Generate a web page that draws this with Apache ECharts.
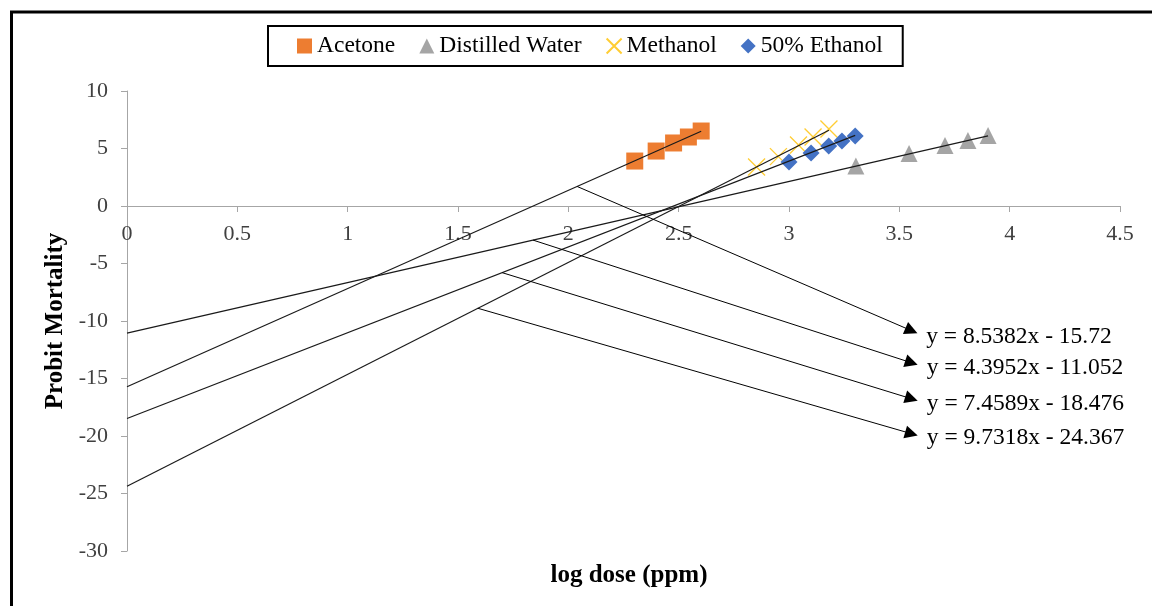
<!DOCTYPE html>
<html>
<head>
<meta charset="utf-8">
<script src="https://cdn.jsdelivr.net/npm/echarts@6/dist/echarts.min.js"></script>
<style>
  html, body { margin: 0; padding: 0; background: #fff; }
  #chart { width: 1152px; height: 606px; }
</style>
</head>
<body>
<div id="chart"></div>
<script>
  // values (x = log dose, y = probit)
  var seriesNames = ['Acetone', 'Distilled Water', 'Methanol', '50% Ethanol'];
  var acetoneX = [2.301, 2.398, 2.477, 2.544, 2.602];
  var acetoneY = [3.91, 4.78, 5.48, 6.0, 6.52];
  var waterX = [3.303, 3.544, 3.707, 3.811, 3.902];
  var waterY = [3.48, 4.57, 5.26, 5.7, 6.13];
  var methanolX = [2.853, 2.952, 3.043, 3.109, 3.181];
  var methanolY = [3.39, 4.29, 5.3, 6.0, 6.7];
  var ethanolX = [3.0, 3.1, 3.18, 3.24, 3.3];
  var ethanolY = [3.83, 4.61, 5.22, 5.65, 6.09];

  // trendline equations shown on the chart
  var slopes = [8.5382, 4.3952, 9.7318, 7.4589];
  var intercepts = [-15.72, -11.052, -24.367, -18.476];
  var eqLabels = ['y = 8.5382x - 15.72', 'y = 4.3952x - 11.052', 'y = 9.7318x - 24.367', 'y = 7.4589x - 18.476'];

  // callout arrows: start x on each trendline, arrow end point
  var arrowStartX = [2.04, 1.84, 1.59, 1.70];
  var arrowEnd = [[3.555, -10.84], [3.555, -13.63], [3.555, -19.8], [3.555, -16.76]];

  var xTicks = [0, 0.5, 1, 1.5, 2, 2.5, 3, 3.5, 4, 4.5];
  var yTicks = [-30, -25, -20, -15, -10, -5, 0, 5, 10];

  var font = 'Liberation Serif';
  var colors = ['#ED7D31', '#A5A5A5', '#FFC000', '#4472C4'];
  var symbols = ['rect', 'triangle', 'path://M0,0L10,10M10,0L0,10', 'diamond'];
  var sizes = [17, 17, 17, 17];
  var xs = [acetoneX, waterX, methanolX, ethanolX];
  var ys = [acetoneY, waterY, methanolY, ethanolY];

  function pairs(a, b) {
    return a.map(function (v, i) { return [v, b[i]]; });
  }

  var series = [];
  seriesNames.forEach(function (name, i) {
    series.push({
      name: name,
      type: 'scatter',
      data: pairs(xs[i], ys[i]),
      symbol: symbols[i],
      symbolSize: sizes[i],
      itemStyle: i === 2
        ? { color: colors[i], borderColor: colors[i], borderWidth: 1.3, opacity: 0.8 }
        : { color: colors[i], opacity: 1 },
      z: 2
    });
  });

  seriesNames.forEach(function (name, i) {
    var xEnd = Math.max.apply(null, xs[i]);
    var sx = arrowStartX[i];
    series.push({
      name: name + ' trend',
      type: 'line',
      data: [[0, intercepts[i]], [xEnd, slopes[i] * xEnd + intercepts[i]]],
      showSymbol: false,
      silent: true,
      lineStyle: { color: '#1a1a1a', width: 1.2 },
      z: 3,
      markLine: {
        silent: true,
        symbol: ['none', 'triangle'],
        symbolSize: 13,
        lineStyle: { color: '#000', width: 1, type: 'solid' },
        itemStyle: { color: '#000' },
        label: {
          show: true,
          position: 'end',
          distance: 16,
          formatter: eqLabels[i],
          color: '#000',
          fontFamily: font,
          fontSize: 23.5
        },
        emphasis: { disabled: true },
        data: [[{ coord: [sx, slopes[i] * sx + intercepts[i]] }, { coord: arrowEnd[i] }]]
      }
    });
  });

  var chart = echarts.init(document.getElementById('chart'));
  chart.setOption({
    animation: false,
    backgroundColor: '#fff',
    grid: { left: 127, right: 32, top: 91, bottom: 55 },
    legend: {
      data: seriesNames,
      left: 268,
      top: 26,
      padding: [8, 20, 8, 29],
      itemGap: 24,
      itemWidth: 15,
      itemHeight: 15,
      borderColor: '#000',
      borderWidth: 2,
      textStyle: { fontFamily: font, fontSize: 23.5, color: '#000' }
    },
    title: {
      text: 'log dose (ppm)',
      left: 624,
      top: 558,
      textAlign: 'center',
      textStyle: { fontFamily: font, fontSize: 25, fontWeight: 'bold', color: '#000' }
    },
    xAxis: {
      type: 'value',
      min: xTicks[0],
      max: xTicks[xTicks.length - 1],
      interval: 0.5,
      // axis sits at y = 0, which is 345px above the grid bottom
      offset: -345,
      axisLine: { onZero: false, lineStyle: { color: '#A6A6A6', width: 1 } },
      axisTick: { show: true, length: 6, lineStyle: { color: '#A6A6A6' } },
      axisLabel: { fontFamily: font, fontSize: 22, color: '#404040', margin: 17 },
      splitLine: { show: false }
    },
    yAxis: {
      type: 'value',
      min: yTicks[0],
      max: yTicks[yTicks.length - 1],
      interval: 5,
      name: 'Probit Mortality',
      nameLocation: 'middle',
      nameGap: 52,
      nameTextStyle: { fontFamily: font, fontSize: 25, fontWeight: 'bold', color: '#000' },
      axisLine: { show: true, onZero: false, lineStyle: { color: '#A6A6A6', width: 1 } },
      axisTick: { show: true, length: 6, lineStyle: { color: '#A6A6A6' } },
      axisLabel: { fontFamily: font, fontSize: 22, color: '#404040', margin: 19 },
      splitLine: { show: false }
    },
    graphic: [{
      type: 'rect',
      shape: { x: 11.5, y: 12, width: 1200, height: 700 },
      style: { fill: 'none', stroke: '#000', lineWidth: 3 },
      silent: true
    }],
    series: series
  });
</script>
</body>
</html>
